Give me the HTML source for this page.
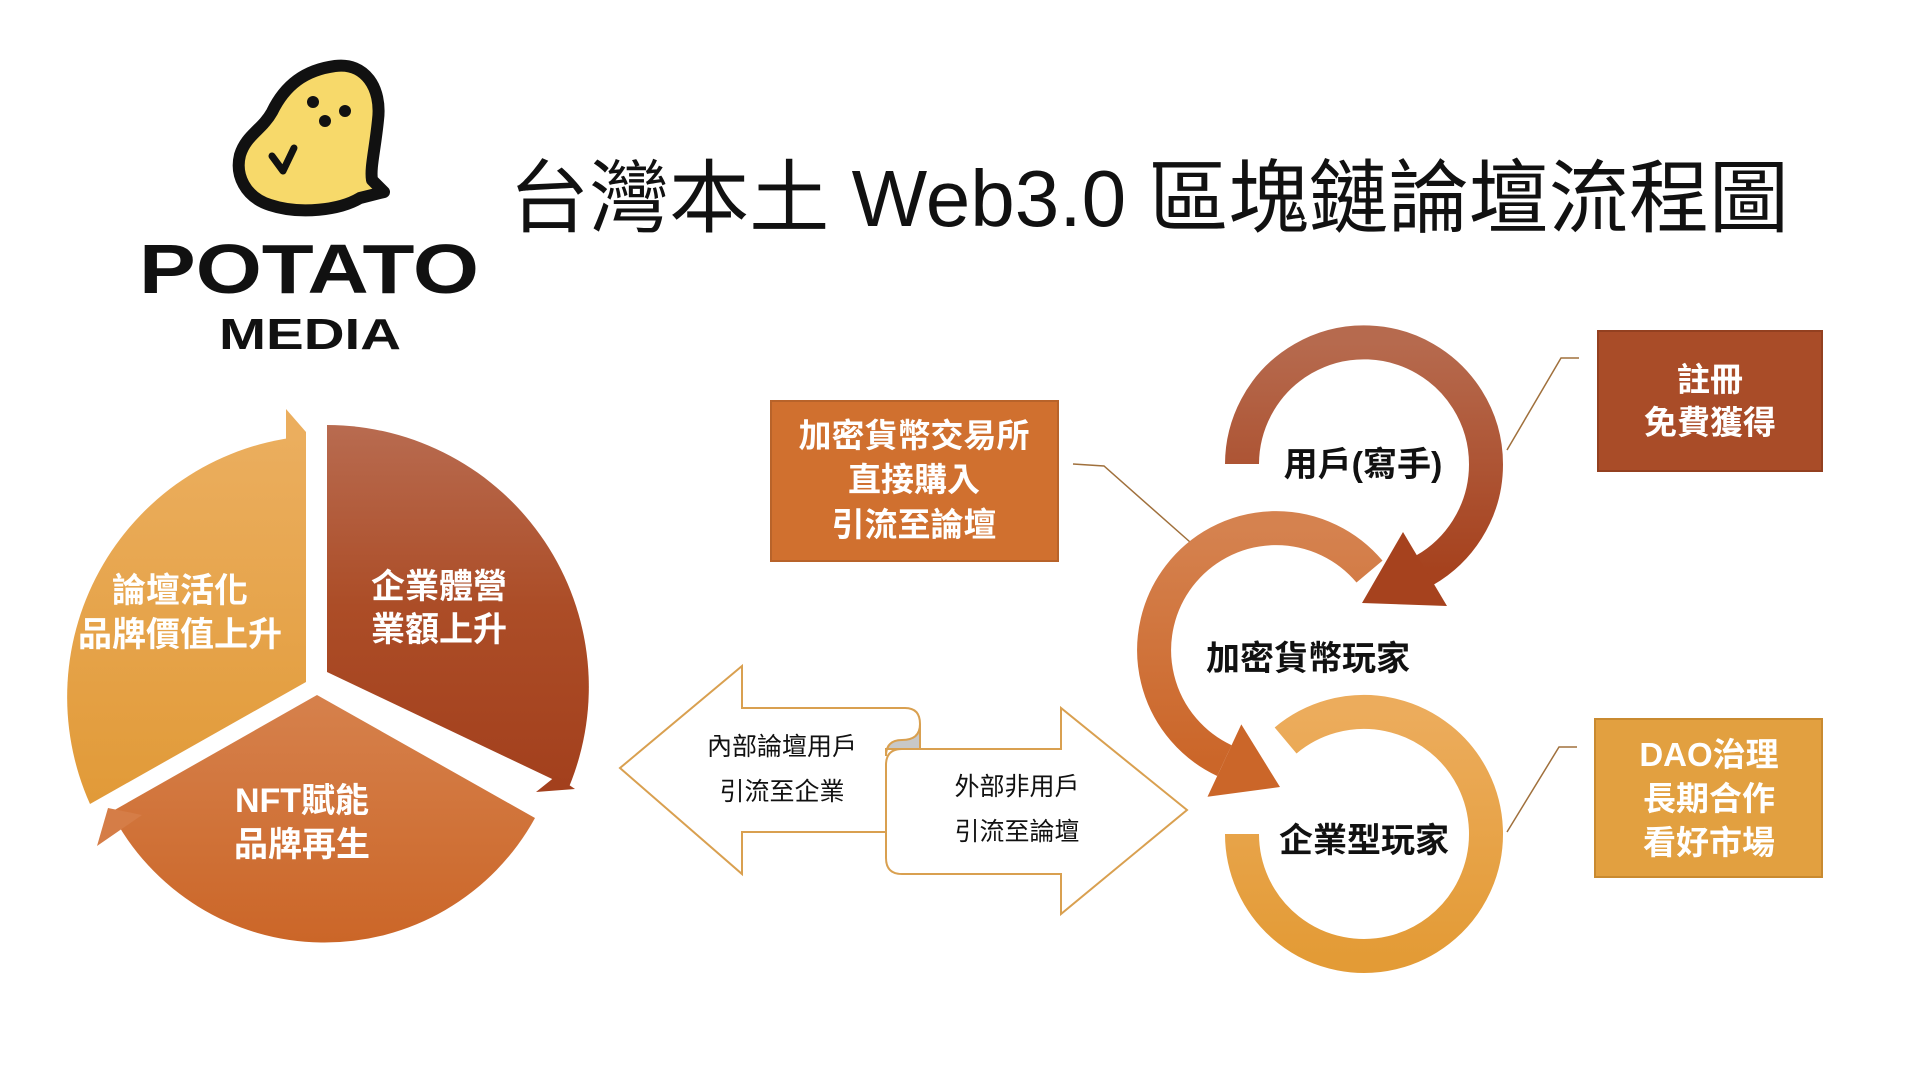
<!DOCTYPE html>
<html><head><meta charset="utf-8"><style>
html,body{margin:0;padding:0;background:#fff;}
body{width:1914px;height:1072px;overflow:hidden;position:relative;font-family:"Liberation Sans","Noto Sans CJK TC",sans-serif;}
svg{position:absolute;left:0;top:0;}
</style></head><body>
<svg width="1914" height="1072" viewBox="0 0 1914 1072" xmlns="http://www.w3.org/2000/svg" font-family="Liberation Sans, Noto Sans CJK TC, sans-serif">
<defs>
<linearGradient id="gL" x1="0" y1="0" x2="0" y2="1"><stop offset="0" stop-color="#EBAE5E"/><stop offset="1" stop-color="#E19A38"/></linearGradient>
<linearGradient id="gR" x1="0" y1="0" x2="0" y2="1"><stop offset="0" stop-color="#B86B50"/><stop offset="0.5" stop-color="#AC4D27"/><stop offset="1" stop-color="#A3401D"/></linearGradient>
<linearGradient id="gB" x1="0" y1="0" x2="0" y2="1"><stop offset="0" stop-color="#D6814C"/><stop offset="1" stop-color="#CB6628"/></linearGradient>
<linearGradient id="gA1" x1="0" y1="0" x2="0" y2="1"><stop offset="0" stop-color="#B66A4E"/><stop offset="1" stop-color="#A6421E"/></linearGradient>
<linearGradient id="gA2" x1="0" y1="0" x2="0" y2="1"><stop offset="0" stop-color="#D5824F"/><stop offset="1" stop-color="#CB6629"/></linearGradient>
<linearGradient id="gA3" x1="0" y1="0" x2="0" y2="1"><stop offset="0" stop-color="#ECAC5C"/><stop offset="1" stop-color="#E39B36"/></linearGradient>
</defs>

<!-- Logo -->
<path d="M335,66 C365,62 382,88 378,120 C375,150 370,168 372,180 L384,192 L360,198 C340,210 300,215 270,205 C245,197 235,175 240,155 C246,135 262,130 272,112 C285,85 305,70 335,66 Z" fill="#F7D96A" stroke="#111" stroke-width="12" stroke-linejoin="round"/>
<circle cx="313" cy="102" r="6" fill="#111"/>
<circle cx="345" cy="111" r="6" fill="#111"/>
<circle cx="325" cy="121" r="6" fill="#111"/>
<path d="M272,156 L283,171 L294,148" fill="none" stroke="#111" stroke-width="7" stroke-linecap="round" stroke-linejoin="round"/>
<text x="139" y="293" font-size="70" font-weight="bold" fill="#111" textLength="340" lengthAdjust="spacingAndGlyphs">POTATO</text>
<text x="219" y="349" font-size="44" font-weight="bold" fill="#111" textLength="182" lengthAdjust="spacingAndGlyphs">MEDIA</text>

<!-- Title -->
<text x="509" y="226" font-size="80" fill="#111" textLength="1280" lengthAdjust="spacingAndGlyphs">台灣本土 Web3.0 區塊鏈論壇流程圖</text>

<!-- Pie -->
<path d="M306,436 L306,682 L90,804 A262,262 0 0 1 306,436 Z" fill="url(#gL)"/>
<path d="M286,409 L306,432 L306,440 L286,440 Z" fill="#EBAE5E"/>
<path d="M327,425 A262,262 0 0 1 569,787 L327,672 Z" fill="url(#gR)"/>
<path d="M536,792 L575,789 L556,776 Z" fill="#A3401D"/>
<path d="M317,695 L535,818 A240,240 0 0 1 111,812 Z" fill="url(#gB)"/>
<path d="M97,846 L108,808 L142,815 Z" fill="#D57D47"/>
<g font-size="34" font-weight="bold" fill="#fff" text-anchor="middle">
<text x="180" y="602">論壇活化</text>
<text x="180" y="646">品牌價值上升</text>
<text x="439" y="598">企業體營</text>
<text x="439" y="641">業額上升</text>
<text x="302" y="812">NFT賦能</text>
<text x="302" y="856">品牌再生</text>
</g>

<!-- Double arrow -->
<path d="M886,749 L1061,749 L1061,708 L1187,810 L1061,914 L1061,874 L902,874 Q886,874 886,858 Z" fill="#fff" stroke="#D9A050" stroke-width="2"/>
<path d="M620,768 L742,666 L742,708 L905,708 Q920,708 920,724 L920,749 L902,749 Q886,749 886,765 L886,832 L742,832 L742,874 Z" fill="#fff" stroke="#D9A050" stroke-width="2"/>
<path d="M920,724 Q920,740 902,740 Q886,740 886,756 L886,749 L920,749 Z" fill="#C8C8C8" stroke="#D9A050" stroke-width="2"/>
<g font-size="25" fill="#111" text-anchor="middle">
<text x="782" y="755">內部論壇用戶</text>
<text x="782" y="800">引流至企業</text>
<text x="1017" y="795">外部非用戶</text>
<text x="1017" y="840">引流至論壇</text>
</g>

<!-- Boxes -->
<rect x="771" y="401" width="287" height="160" fill="#D0702F" stroke="#B8632A" stroke-width="2"/>
<g font-size="33" font-weight="bold" fill="#fff" text-anchor="middle">
<text x="914" y="447">加密貨幣交易所</text>
<text x="914" y="491">直接購入</text>
<text x="914" y="536">引流至論壇</text>
</g>
<rect x="1598" y="331" width="224" height="140" fill="#A94C28" stroke="#934020" stroke-width="2"/>
<g font-size="33" font-weight="bold" fill="#fff" text-anchor="middle">
<text x="1710" y="391">註冊</text>
<text x="1710" y="434">免費獲得</text>
</g>
<rect x="1595" y="719" width="227" height="158" fill="#E2A040" stroke="#C98A30" stroke-width="2"/>
<g font-size="33" font-weight="bold" fill="#fff" text-anchor="middle">
<text x="1709" y="766">DAO治理</text>
<text x="1709" y="810">長期合作</text>
<text x="1709" y="854">看好市場</text>
</g>

<!-- Connectors -->
<g fill="none" stroke="#A0703C" stroke-width="1.5">
<polyline points="1073,464 1104,466 1190,542"/>
<polyline points="1579,358 1561,358 1507,450"/>
<polyline points="1577,747 1559,747 1507,832"/>
</g>

<!-- Circular arrows -->
<path d="M1285.6,740.5 A122,122 0 1 1 1242,834" fill="none" stroke="url(#gA3)" stroke-width="34"/>
<path d="M1369.5,571.6 A122,122 0 1 0 1224.4,760.6" fill="none" stroke="url(#gA2)" stroke-width="34"/>
<path d="M1207.5,796.8 L1241.3,724.4 L1280,787 Z" fill="#CB6629"/>
<path d="M1242,464 A122,122 0 1 1 1425,570" fill="none" stroke="url(#gA1)" stroke-width="34"/>
<path d="M1447,606 L1403,532 L1362,603 Z" fill="#A6421E"/>
<g font-size="34" font-weight="bold" fill="#111" text-anchor="middle">
<text x="1363" y="476">用戶(寫手)</text>
<text x="1308" y="670">加密貨幣玩家</text>
<text x="1364" y="852">企業型玩家</text>
</g>
</svg>
</body></html>
